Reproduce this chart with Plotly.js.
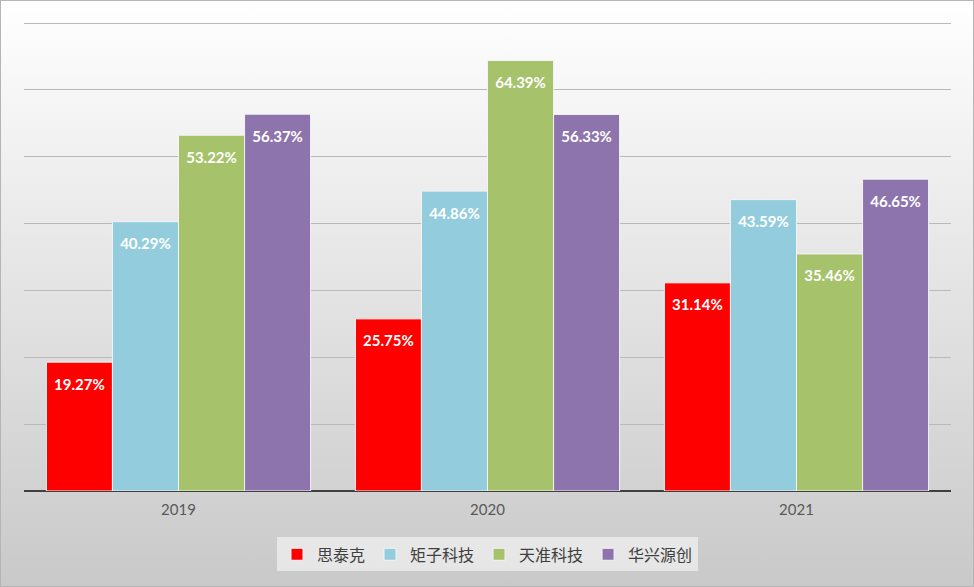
<!DOCTYPE html>
<html>
<head>
<meta charset="utf-8">
<script src="https://cdn.plot.ly/plotly-3.0.1.min.js"></script>
<style>
html, body { margin:0; padding:0; }
body { width:974px; height:587px; overflow:hidden;
  background: linear-gradient(to bottom, #ffffff 0%, #e6e6e6 45%, #c9c9c9 100%); }
#frame { position:absolute; left:0; top:0; width:972px; height:585px; border:1px solid #b5b5b5; box-sizing:content-box; }
#chart { position:absolute; left:0; top:0; width:974px; height:587px; }
</style>
</head>
<body>
<div id="frame"></div>
<div id="chart"></div>
<script>
const years = ['2019', '2020', '2021'];
const seriesNames = ['思泰克', '矩子科技', '天准科技', '华兴源创'];
const s1 = [19.27, 25.75, 31.14];
const s2 = [40.29, 44.86, 43.59];
const s3 = [53.22, 64.39, 35.46];
const s4 = [56.37, 56.33, 46.65];
const colors = ['#ff0000', '#93cddd', '#a6c26b', '#8e74ad'];

const allVals = [s1, s2, s3, s4];
const traces = allVals.map((vals, i) => ({
  type: 'bar',
  name: seriesNames[i],
  x: years,
  y: vals,
  text: vals.map(v => '<span style="font-size:5px"> </span><br>' + v.toFixed(2) + '%'),
  textposition: 'inside',
  insidetextanchor: 'end',
  textangle: 0,
  constraintext: 'none',
  textfont: { family: 'Lato, "Open Sans", sans-serif', size: 15, color: '#ffffff', weight: 'bold' },
  marker: { color: colors[i], line: { color: '#f4f4f4', width: 1 } },
  hoverinfo: 'none'
}));

const layout = {
  width: 974, height: 587,
  paper_bgcolor: 'rgba(0,0,0,0)',
  plot_bgcolor: 'rgba(0,0,0,0)',
  margin: { l: 24, r: 23, t: 13, b: 96 },
  barmode: 'group',
  bargap: 0.145,
  bargroupgap: 0,
  showlegend: true,
  legend: {
    orientation: 'h', x: 0.5, xanchor: 'center', y: -0.097, yanchor: 'top',
    bgcolor: 'rgba(235,235,235,0.85)',
    font: { family: '"Noto Sans CJK SC", sans-serif', size: 16, color: '#404040' },
    traceorder: 'normal',
    itemwidth: 30
  },
  xaxis: {
    type: 'category',
    showgrid: false,
    showline: false,
    ticks: '',
    tickfont: { family: 'Lato, "Open Sans", sans-serif', size: 15, color: '#595959' },
    ticklabelstandoff: 8
  },
  yaxis: {
    range: [0, 71.5],
    tickvals: [0, 10, 20, 30, 40, 50, 60, 70],
    showticklabels: false,
    showgrid: true,
    gridcolor: '#b9b9b9',
    gridwidth: 1,
    zeroline: true,
    zerolinecolor: '#3f3f3f',
    zerolinewidth: 2.5,
    fixedrange: true
  },
  font: { family: '"Noto Sans CJK SC", sans-serif' }
};

Plotly.newPlot('chart', traces, layout, { displayModeBar: false, staticPlot: true });
</script>
</body>
</html>
